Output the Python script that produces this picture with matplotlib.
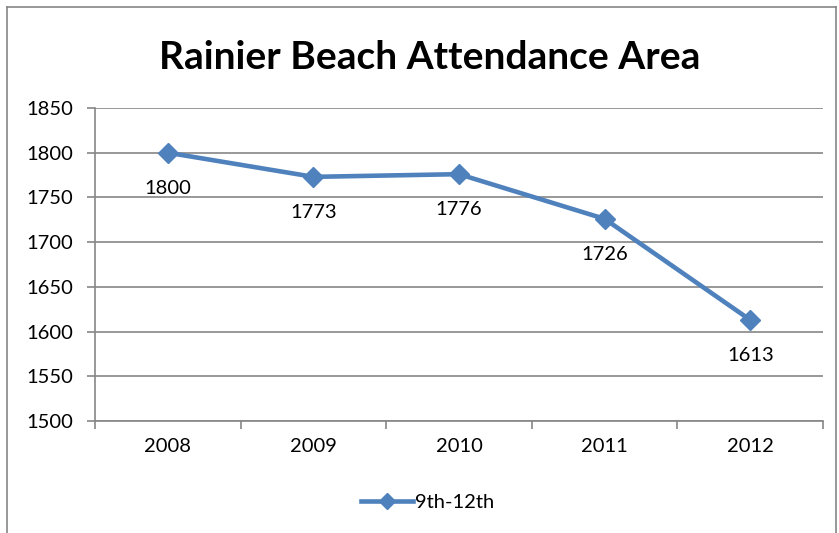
import matplotlib
matplotlib.use("Agg")
import matplotlib.pyplot as plt
from matplotlib.lines import Line2D

# 数据
years = ["2008", "2009", "2010", "2011", "2012"]
attendance = [1800, 1773, 1776, 1726, 1613]
series_name = "9th-12th"
y_ticks = [1500, 1550, 1600, 1650, 1700, 1750, 1800, 1850]

plt.rcParams['font.family'] = ['Lato', 'DejaVu Sans']
blue = "#4F81BD"
gray = "#868686"
fs = 14.5

fig = plt.figure(figsize=(8.39, 5.33), dpi=100)
ax = fig.add_axes([0.1132, 0.2101, 0.8678, 0.5873])

x = [i + 0.5 for i in range(len(years))]
ax.plot(x, attendance, color=blue, lw=3.3, marker="D", markersize=10,
        label=series_name, zorder=3)

# 数据标签
for xi, v in zip(x, attendance):
    ax.annotate(str(v), (xi, v), xytext=(0, -25.5), textcoords="offset points",
                ha="center", va="center", fontsize=fs)

ax.set_xlim(0, len(years))
ax.set_ylim(1500, 1850)
ax.set_yticks(y_ticks)
ax.set_xticks(range(len(years) + 1))
ax.set_xticklabels([])
ax.set_xticks(x, minor=True)
ax.set_xticklabels(years, minor=True)
ax.tick_params(axis="x", which="minor", length=0, pad=12, labelsize=fs)
ax.tick_params(axis="x", which="major", length=6, color=gray, width=1.2)
ax.tick_params(axis="y", length=6, color=gray, width=1.2, pad=10, labelsize=fs)

ax.grid(axis="y", color=gray, lw=1.2)
ax.set_axisbelow(True)
for s in ["top", "right"]:
    ax.spines[s].set_visible(False)
for s in ["left", "bottom"]:
    ax.spines[s].set_color(gray)
    ax.spines[s].set_linewidth(1.2)

fig.text(0.512, 0.893, "Rainier Beach Attendance Area", ha="center", va="center",
         fontsize=28, fontweight="bold")

fig.legend(loc="center", bbox_to_anchor=(0.51, 0.058), frameon=False,
           fontsize=fs, handlelength=2.6, handletextpad=0.1, markerscale=0.85)

# 外框
fig.add_artist(Line2D([0.0083, 0.0083], [0, 0.987], color=gray, lw=1.2))
fig.add_artist(Line2D([0.0083, 0.997], [0.987, 0.987], color=gray, lw=1.2))
fig.add_artist(Line2D([0.997, 0.997], [0, 0.987], color=gray, lw=1.2))

fig.savefig("out.png", dpi=100)
